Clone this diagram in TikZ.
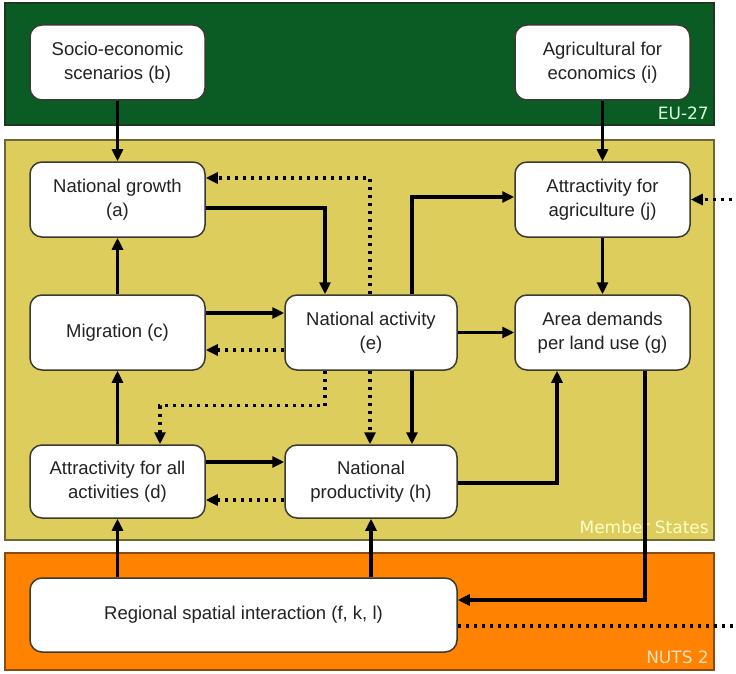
\documentclass[tikz,border=0pt]{standalone}
\usepackage{fontspec}
\setmainfont{Liberation Sans}
\newfontfamily\bandfont{DejaVu Sans}
\usetikzlibrary{arrows.meta}

\definecolor{euGreen}{HTML}{0B5C24}
\definecolor{euGreenEdge}{HTML}{1E3A1E}
\definecolor{msYellow}{HTML}{DDCD5C}
\definecolor{msYellowEdge}{HTML}{6E6835}
\definecolor{nutsOrange}{HTML}{FF8200}
\definecolor{nutsOrangeEdge}{HTML}{8A4A12}
\definecolor{boxText}{HTML}{222222}
\definecolor{boxEdge}{HTML}{3A3A32}

\tikzset{
  band/.style={draw, line width=1.6pt},
  bandlabel/.style={font=\bandfont\fontsize{17}{19}\selectfont, anchor=south east, inner sep=0pt},
  model/.style={draw=boxEdge, fill=white, line width=1.5pt, rounded corners=12pt,
    align=center, text=boxText, font=\fontsize{18.5}{24}\selectfont,
    minimum width=175pt, minimum height=75pt, inner sep=2pt},
  arr/.style={line width=3.2pt, -{Triangle[length=12pt,width=11pt]}},
  darr/.style={line width=3.2pt, dash pattern=on 3pt off 5pt,
    -{Triangle[length=12pt,width=11pt]}},
}

\begin{document}
\begin{tikzpicture}[x=1pt, y=-1pt]
  \useasboundingbox[fill=white] (0,0) rectangle (736,674);

  % spatial levels
  \draw[band, draw=euGreenEdge, fill=euGreen] (5,3) rectangle (714,125);
  \draw[band, draw=msYellowEdge, fill=msYellow] (5,140) rectangle (714,540);
  \draw[band, draw=nutsOrangeEdge, fill=nutsOrange] (5,553) rectangle (714,670);
  \node[bandlabel, text=green!15!white] (lblEU) at (709,120) {EU-27};
  \node[bandlabel, text=yellow!20!white] (lblMS) at (709,534) {Member States};
  \node[bandlabel, text=orange!25!white] (lblNUTS) at (709,664) {NUTS 2};

  % model components
  \node[model] (b) at (117.5,62.5) {Socio-economic\\scenarios (b)};
  \node[model] (i) at (602.5,62.5) {Agricultural for\\economics (i)};
  \node[model] (a) at (117.5,199.5) {National growth\\(a)};
  \node[model] (j) at (602.5,199.5) {Attractivity for\\agriculture (j)};
  \node[model] (c) at (117.5,332.5) {Migration (c)};
  \node[model, minimum width=172pt] (e) at (371,332.5) {National activity\\(e)};
  \node[model] (g) at (602.5,332.5) {Area demands\\per land use (g)};
  \node[model, minimum height=73pt] (d) at (117.5,481.5) {Attractivity for all\\activities (d)};
  \node[model, minimum width=172pt, minimum height=73pt] (h) at (371,481.5) {National\\productivity (h)};
  \node[model, minimum width=427pt, minimum height=74pt] (R) at (243.5,615) {Regional spatial interaction (f, k, l)};

  % solid links
  \draw[arr] (b) -- (a);
  \draw[arr] (i) -- (j);
  \draw[arr] ([yshift=-8.5pt]a.east) -| ([xshift=-46pt]e.north);
  \draw[arr] ([xshift=41pt]e.north) |- ([yshift=2.5pt]j.west);
  \draw[arr] (c) -- (a);
  \draw[arr] (j) -- (g);
  \draw[arr] ([yshift=19.5pt]c.east) -- ([yshift=19.5pt]e.west);
  \draw[arr] (e) -- (g);
  \draw[arr] ([xshift=41pt]e.south) -- ([xshift=41pt]h.north);
  \draw[arr] (d) -- (c);
  \draw[arr] ([yshift=19.5pt]d.east) -- ([yshift=19.5pt]h.west);
  \draw[arr] ([yshift=-1.5pt]h.east) -| ([xshift=-45.5pt]g.south);
  \draw[arr] ([xshift=42.5pt]g.south) |- ([yshift=15pt]R.east);
  \draw[arr] (R.north -| d) -- (d);
  \draw[arr] (R.north -| h) -- (h);

  % feedback links
  \draw[darr] ([xshift=-1pt]e.north) |- ([yshift=21.5pt]a.east);
  \draw[darr] ([yshift=-17.5pt]e.west) -- ([yshift=-17.5pt]c.east);
  \draw[darr] ([xshift=-46pt]e.south) -- ++(0,35) -| ([xshift=42.5pt]d.north);
  \draw[darr] ([xshift=-1pt]e.south) -- ([xshift=-1pt]h.north);
  \draw[darr] ([yshift=-18.5pt]h.west) -- ([yshift=-18.5pt]d.east);
  \draw[darr] ([yshift=-11pt]R.east) -- ++(292,0) |- (j.east);
\end{tikzpicture}
\end{document}
